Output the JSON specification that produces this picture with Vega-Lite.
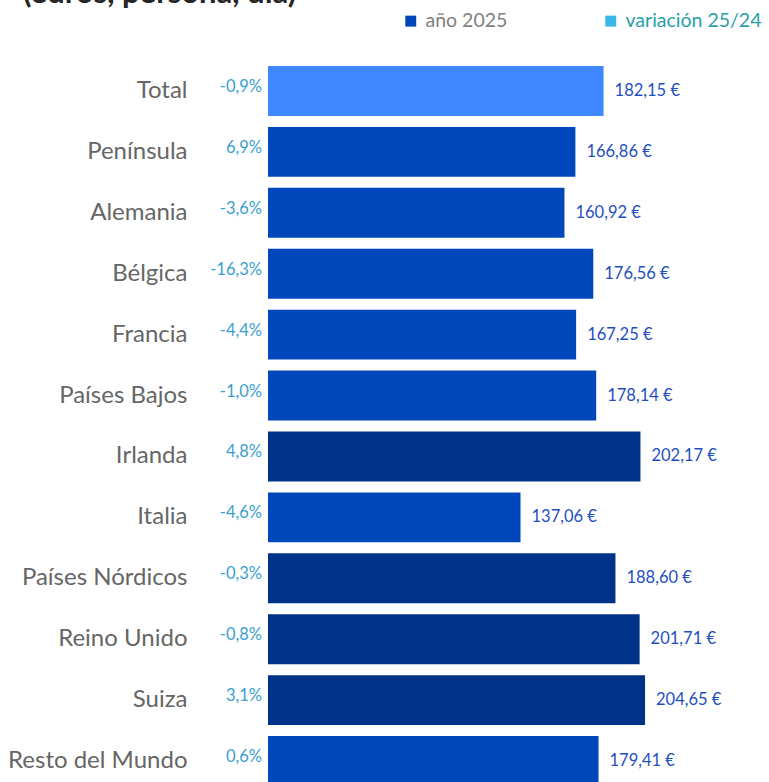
{
  "$schema": "https://vega.github.io/schema/vega-lite/v6.json",
  "autosize": {"type": "none"},
  "padding": {"left": 268, "top": 60.5, "right": 40, "bottom": 0},
  "width": 479,
  "height": 731,
  "config": {
    "locale": {"number": {"decimal": ",", "thousands": ".", "grouping": [3], "currency": ["", " €"], "minus": "-", "percent": "%"}},
    "view": {"stroke": null},
    "font": "Lato"
  },
  "title": {"text": "(euros, persona, día)", "anchor": "start", "frame": "group", "dx": -245, "dy": 31, "offset": 8, "baseline": "alphabetic", "fontSize": 31, "font": "Lato", "fontWeight": "bold", "color": "#262626"},
  "datasets": {
    "filas": [
      {"destino": "Total", "gasto": 182.15, "variacion": -0.009, "grupo": "total"},
      {"destino": "Península", "gasto": 166.86, "variacion": 0.069, "grupo": "medio"},
      {"destino": "Alemania", "gasto": 160.92, "variacion": -0.036, "grupo": "medio"},
      {"destino": "Bélgica", "gasto": 176.56, "variacion": -0.163, "grupo": "medio"},
      {"destino": "Francia", "gasto": 167.25, "variacion": -0.044, "grupo": "medio"},
      {"destino": "Países Bajos", "gasto": 178.14, "variacion": -0.010, "grupo": "medio"},
      {"destino": "Irlanda", "gasto": 202.17, "variacion": 0.048, "grupo": "alto"},
      {"destino": "Italia", "gasto": 137.06, "variacion": -0.046, "grupo": "medio"},
      {"destino": "Países Nórdicos", "gasto": 188.60, "variacion": -0.003, "grupo": "alto"},
      {"destino": "Reino Unido", "gasto": 201.71, "variacion": -0.008, "grupo": "alto"},
      {"destino": "Suiza", "gasto": 204.65, "variacion": 0.031, "grupo": "alto"},
      {"destino": "Resto del Mundo", "gasto": 179.41, "variacion": 0.006, "grupo": "medio"}
    ],
    "leyenda": [{"serie": "año 2025"}, {"serie": "variación 25/24"}]
  },
  "layer": [
    {
      "data": {"name": "filas"},
      "mark": {"type": "bar"},
      "encoding": {
        "y": {"field": "destino", "type": "nominal", "sort": null, "scale": {"paddingInner": 0.18, "paddingOuter": 0.09}, "axis": {"title": null, "domain": false, "ticks": false, "labelPadding": 81, "labelFont": "Lato", "labelFontSize": 24, "labelColor": "#666666", "labelLimit": 300}},
        "x": {"field": "gasto", "type": "quantitative", "scale": {"domain": [0, 250]}, "axis": null},
        "color": {"field": "grupo", "type": "nominal", "scale": {"domain": ["total", "medio", "alto"], "range": ["#3f88ff", "#0047bb", "#003289"]}, "legend": null}
      }
    },
    {
      "data": {"name": "filas"},
      "mark": {"type": "text", "align": "left", "baseline": "middle", "dx": 11, "fontSize": 16.5, "font": "Lato", "color": "#1f4fbf"},
      "encoding": {
        "y": {"field": "destino", "type": "nominal", "sort": null},
        "x": {"field": "gasto", "type": "quantitative"},
        "text": {"field": "gasto", "type": "quantitative", "format": "$.2f"}
      }
    },
    {
      "data": {"name": "filas"},
      "mark": {"type": "text", "align": "right", "baseline": "middle", "dx": -6, "dy": -4, "fontSize": 16.5, "font": "Lato", "color": "#3a9fd0"},
      "encoding": {
        "y": {"field": "destino", "type": "nominal", "sort": null},
        "x": {"datum": 0, "type": "quantitative"},
        "text": {"field": "variacion", "type": "quantitative", "format": ".1%"}
      }
    },
    {
      "data": {"name": "leyenda"},
      "mark": {"type": "square", "opacity": 0},
      "encoding": {
        "fill": {"field": "serie", "type": "nominal", "scale": {"domain": ["año 2025", "variación 25/24"], "range": ["#0047bb", "#3cb5e8"]},
          "legend": {"title": null, "orient": "none", "legendX": 133, "legendY": -49.5, "direction": "horizontal", "symbolType": "square", "symbolSize": 120, "symbolOpacity": 1, "symbolStrokeWidth": 0, "labelFont": "Lato", "labelFontSize": 19.5, "labelOffset": 5, "columnPadding": 93, "padding": 0, "labelLimit": 300,
            "encode": {"labels": {"update": {"fill": {"signal": "datum.label === 'año 2025' ? '#7f7f7f' : '#2a9fa8'"}}}}}
        }
      }
    }
  ]
}
